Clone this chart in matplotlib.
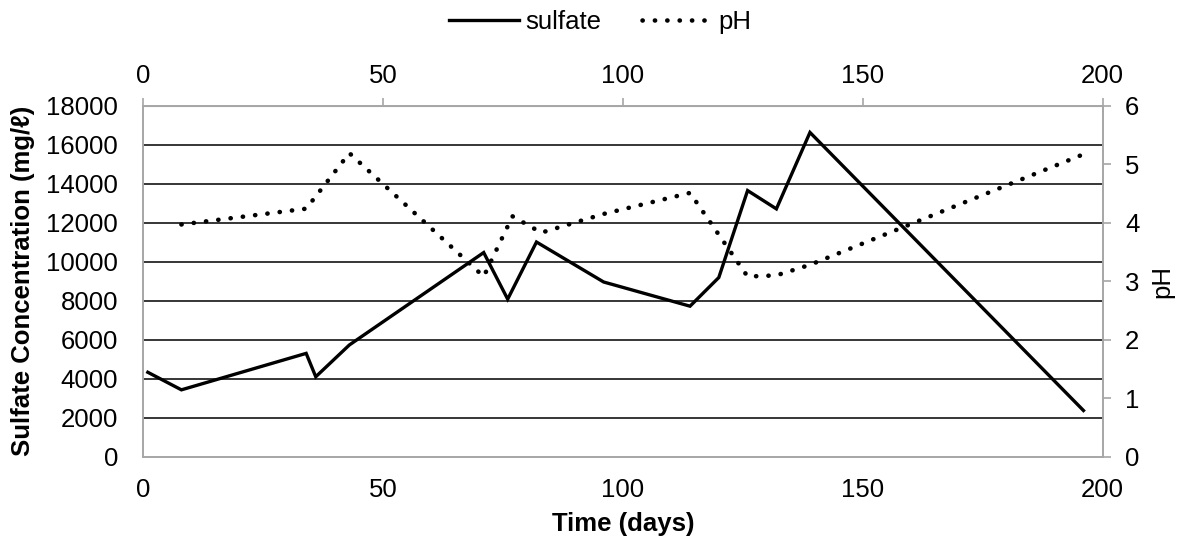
import matplotlib.pyplot as plt

plt.rcParams['font.family'] = ['Liberation Sans', 'DejaVu Sans']

# sampling days and measured values
sulfate_days = [1, 8, 34, 36, 43, 71, 76, 82, 96, 114, 120, 126, 132, 139, 196]
sulfate_mg_l = [4330, 3430, 5300, 4100, 5730, 10470, 8080, 11010, 8960, 7720,
                9190, 13650, 12710, 16630, 2370]

ph_days = [8, 34, 43, 71, 77, 83, 96, 114, 126, 132, 139, 196]
ph_vals = [3.97, 4.24, 5.19, 3.08, 4.11, 3.83, 4.15, 4.51, 3.08, 3.10, 3.28, 5.17]

x_ticks = [0, 50, 100, 150, 200]
so4_ticks = list(range(0, 18001, 2000))
ph_ticks = list(range(0, 7))

grey = '#a6a6a6'
fs = 18.5

fig = plt.figure(figsize=(11.84, 5.43), dpi=100)
ax = fig.add_axes([0.1208, 0.1589, 0.8105, 0.6464])
ax2 = ax.twinx()

for y in so4_ticks[1:-1]:
    ax.axhline(y, color='black', lw=1.1, zorder=1)

l1, = ax.plot(sulfate_days, sulfate_mg_l, color='black', lw=2.4,
              solid_joinstyle='miter', zorder=3, label='sulfate')
l2, = ax2.plot(ph_days, ph_vals, color='black', lw=3.3,
               linestyle=(0, (0.05, 2.65)), dash_capstyle='round',
               zorder=3, label='pH')

ax.set_xlim(0, 200)
ax.set_ylim(0, 18000)
ax2.set_ylim(0, 6)
ax.set_xticks(x_ticks)
ax.set_yticks(so4_ticks)
ax2.set_yticks(ph_ticks)

for a in (ax, ax2):
    for s in a.spines.values():
        s.set_color(grey)
        s.set_linewidth(1.2)

ax.tick_params(axis='x', length=0, labelsize=fs, pad=15.5)
ax.tick_params(axis='y', length=0, labelsize=fs, pad=18)
ax2.tick_params(axis='y', direction='out', length=6, width=1.2, color=grey,
                labelsize=fs, pad=10)

top = ax.secondary_xaxis('top')
top.set_xticks(x_ticks)
top.tick_params(direction='out', length=6, width=1.2, color=grey,
                labelsize=fs, pad=7)
top.spines['top'].set_color(grey)

ax.set_xlabel('Time (days)', fontsize=fs, fontweight='bold', labelpad=7)
ax.set_ylabel('Sulfate Concentration (mg/ℓ)', fontsize=fs, fontweight='bold',
              labelpad=8)
ax2.set_ylabel('pH', fontsize=fs, labelpad=8)

fig.legend(handles=[l1, l2], loc='upper center', bbox_to_anchor=(0.507, 1.025),
           ncol=2, frameon=False, fontsize=fs, handlelength=2.7,
           handletextpad=0.25, columnspacing=1.6)

fig.savefig('out.png', dpi=100)
